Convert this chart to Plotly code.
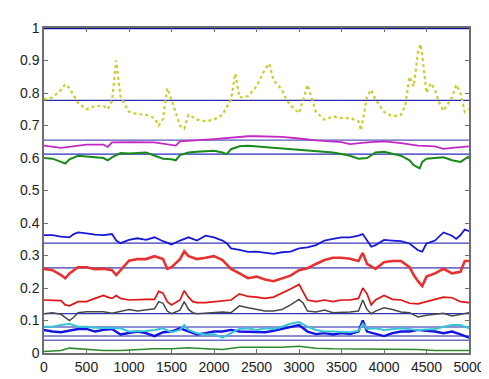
import plotly.graph_objects as go

# ---- data ----
yellow_x = [0,100,200,250,300,400,500,600,700,750,800,850,900,1000,1100,1200,1300,1350,1400,1450,1500,1550,1600,1650,1700,1800,1900,2000,2100,2200,2250,2300,2400,2500,2600,2650,2700,2800,2850,2900,3000,3050,3100,3200,3300,3400,3500,3600,3700,3730,3800,3850,3900,4000,4100,4200,4250,4300,4350,4400,4430,4450,4500,4550,4600,4650,4700,4800,4850,4900,4950,5000]
yellow_y = [0.78,0.786,0.81,0.827,0.815,0.77,0.75,0.76,0.76,0.75,0.776,0.9,0.79,0.742,0.735,0.733,0.723,0.70,0.72,0.815,0.78,0.742,0.70,0.69,0.733,0.718,0.713,0.718,0.733,0.78,0.86,0.786,0.79,0.82,0.873,0.89,0.84,0.81,0.78,0.762,0.738,0.78,0.825,0.742,0.718,0.728,0.723,0.723,0.713,0.685,0.79,0.81,0.78,0.742,0.728,0.733,0.762,0.85,0.82,0.926,0.95,0.916,0.80,0.83,0.81,0.77,0.745,0.786,0.825,0.80,0.742,0.75]

magenta_x = [0,200,500,700,750,800,1000,1300,1550,1600,2000,2200,2400,2500,2800,3000,3200,3500,3600,3800,4000,4200,4400,4600,4700,4800,5000]
magenta_y = [0.638,0.631,0.641,0.641,0.634,0.648,0.649,0.648,0.638,0.651,0.658,0.663,0.667,0.667,0.665,0.66,0.654,0.649,0.643,0.648,0.651,0.646,0.638,0.636,0.628,0.631,0.636]

green_hi_x = [0,100,200,250,300,400,500,600,700,750,800,900,1000,1200,1300,1400,1500,1550,1600,1700,1800,2000,2100,2150,2200,2300,2400,2500,2600,2800,3000,3200,3400,3500,3600,3700,3800,3900,4000,4200,4300,4350,4420,4450,4500,4600,4700,4800,4900,5000]
green_hi_y = [0.60,0.598,0.588,0.583,0.596,0.607,0.605,0.602,0.60,0.593,0.602,0.615,0.614,0.617,0.607,0.598,0.596,0.593,0.609,0.617,0.619,0.622,0.617,0.612,0.627,0.636,0.638,0.636,0.634,0.628,0.624,0.622,0.617,0.612,0.607,0.598,0.60,0.617,0.619,0.607,0.593,0.578,0.568,0.588,0.598,0.60,0.602,0.593,0.588,0.605]

blue_hi_x = [0,100,200,300,350,400,500,600,700,800,850,900,1000,1100,1200,1300,1400,1500,1600,1700,1800,1900,2000,2100,2150,2200,2300,2400,2500,2600,2700,2800,2900,3000,3100,3200,3300,3400,3500,3600,3700,3750,3800,3850,3900,4000,4100,4200,4300,4400,4450,4500,4600,4700,4800,4850,4900,4950,5000]
blue_hi_y = [0.363,0.363,0.358,0.356,0.366,0.371,0.368,0.364,0.363,0.366,0.346,0.338,0.348,0.353,0.348,0.356,0.344,0.334,0.346,0.356,0.346,0.361,0.356,0.346,0.338,0.322,0.317,0.311,0.312,0.308,0.305,0.31,0.312,0.322,0.325,0.332,0.346,0.351,0.356,0.356,0.361,0.366,0.346,0.327,0.332,0.348,0.346,0.344,0.337,0.316,0.312,0.337,0.346,0.371,0.361,0.351,0.363,0.38,0.375]

red_hi_x = [0,100,200,250,300,400,500,600,700,800,850,900,1000,1100,1200,1300,1400,1450,1500,1600,1650,1700,1800,1900,2000,2100,2200,2300,2400,2500,2600,2700,2800,2900,3000,3100,3200,3300,3400,3500,3600,3700,3750,3800,3900,4000,4100,4200,4300,4350,4400,4450,4500,4600,4700,4800,4900,4950,5000]
red_hi_y = [0.259,0.255,0.24,0.23,0.245,0.264,0.264,0.258,0.259,0.255,0.24,0.255,0.284,0.289,0.289,0.298,0.289,0.259,0.264,0.289,0.313,0.298,0.289,0.293,0.298,0.286,0.259,0.245,0.23,0.235,0.226,0.221,0.23,0.238,0.255,0.261,0.274,0.286,0.293,0.293,0.29,0.283,0.308,0.274,0.259,0.279,0.283,0.283,0.264,0.24,0.221,0.206,0.235,0.245,0.259,0.245,0.25,0.283,0.283]

red_lo_x = [0,100,200,250,300,400,500,600,700,750,800,850,900,1000,1100,1200,1300,1350,1400,1450,1500,1600,1650,1700,1750,1800,1900,2000,2100,2200,2300,2400,2500,2600,2700,2800,2900,3000,3050,3100,3200,3300,3400,3500,3600,3700,3750,3800,3850,3900,4000,4100,4200,4300,4400,4500,4600,4700,4800,4900,5000]
red_lo_y = [0.163,0.161,0.161,0.148,0.145,0.158,0.158,0.168,0.177,0.172,0.168,0.177,0.168,0.163,0.165,0.165,0.165,0.19,0.184,0.158,0.148,0.163,0.192,0.172,0.158,0.155,0.155,0.158,0.161,0.163,0.182,0.174,0.172,0.168,0.172,0.184,0.197,0.211,0.187,0.163,0.158,0.163,0.158,0.163,0.163,0.168,0.2,0.182,0.148,0.163,0.177,0.165,0.163,0.153,0.151,0.158,0.163,0.172,0.17,0.158,0.155]

gray_x = [0,100,200,250,300,350,400,500,600,700,800,900,1000,1100,1200,1300,1350,1400,1450,1500,1600,1650,1700,1750,1800,2000,2100,2200,2300,2400,2500,2600,2700,2800,2900,3000,3050,3100,3200,3300,3400,3500,3600,3700,3750,3800,3850,3900,4000,4100,4200,4300,4400,4500,4600,4700,4800,4900,5000]
gray_y = [0.121,0.124,0.119,0.11,0.10,0.11,0.124,0.127,0.126,0.127,0.122,0.129,0.134,0.129,0.132,0.136,0.158,0.153,0.129,0.121,0.132,0.158,0.134,0.124,0.121,0.124,0.126,0.124,0.145,0.139,0.134,0.129,0.129,0.134,0.148,0.165,0.153,0.129,0.126,0.132,0.124,0.124,0.126,0.129,0.163,0.134,0.121,0.129,0.139,0.134,0.126,0.124,0.111,0.116,0.119,0.122,0.114,0.119,0.124]

cyan_x = [0,100,200,300,400,500,600,700,800,900,1000,1100,1200,1300,1400,1500,1600,1650,1700,1800,1900,2000,2100,2200,2300,2400,2500,2600,2700,2800,2900,3000,3100,3200,3300,3400,3500,3600,3700,3750,3800,3900,4000,4200,4400,4600,4700,4800,4900,5000]
cyan_y = [0.081,0.081,0.086,0.09,0.081,0.081,0.078,0.078,0.078,0.076,0.066,0.066,0.068,0.071,0.076,0.064,0.071,0.086,0.071,0.061,0.057,0.058,0.047,0.061,0.074,0.076,0.071,0.076,0.074,0.081,0.09,0.095,0.081,0.071,0.066,0.066,0.066,0.064,0.068,0.09,0.074,0.076,0.071,0.076,0.071,0.074,0.081,0.086,0.086,0.076]

blue_lo_x = [0,100,200,300,400,500,600,700,800,900,1000,1100,1200,1300,1400,1500,1600,1700,1800,1900,2000,2100,2200,2300,2400,2500,2600,2700,2800,2900,3000,3100,3200,3300,3400,3500,3600,3700,3750,3800,3900,4000,4100,4200,4300,4400,4500,4600,4700,4800,4900,5000]
blue_lo_y = [0.071,0.066,0.064,0.068,0.074,0.074,0.066,0.071,0.074,0.057,0.061,0.066,0.061,0.052,0.064,0.066,0.076,0.066,0.057,0.061,0.066,0.066,0.071,0.066,0.066,0.066,0.064,0.068,0.074,0.081,0.086,0.066,0.058,0.061,0.057,0.061,0.058,0.066,0.10,0.066,0.058,0.052,0.061,0.066,0.066,0.071,0.068,0.066,0.061,0.066,0.057,0.047]

green_lo_x = [0,200,300,500,700,900,1100,1300,1500,1700,1900,2100,2300,2400,2600,2800,3000,3200,3400,3600,3800,4000,4200,4400,4600,4800,5000]
green_lo_y = [0.005,0.008,0.015,0.011,0.008,0.008,0.011,0.013,0.013,0.016,0.013,0.011,0.018,0.018,0.016,0.018,0.021,0.015,0.013,0.013,0.011,0.013,0.011,0.011,0.008,0.008,0.008]

ref_levels = [1.0, 0.777, 0.655, 0.612, 0.338, 0.262, 0.121, 0.080, 0.052, 0.039]
ref_colors = ["#10108a", "#2a2ab0", "#5858b8", "#2a2ac0", "#3a3ab8", "#7070c4", "#3434b0", "#6a6ac8", "#6a6ac8", "#7070c8"]
ref_widths = [2.5, 1.3, 1.3, 1.3, 1.3, 1.8, 1.3, 1.3, 1.5, 1.5]
x_ticks = list(range(0, 5001, 500))
y_ticks = [i / 10 for i in range(11)]

fig = go.Figure()

series = [
    (green_lo_x, green_lo_y, "#2a8a2a", 1.5, "solid"),
    (blue_lo_x, blue_lo_y, "#1414e0", 2.4, "solid"),
    (cyan_x, cyan_y, "#38c4d4", 2.0, "solid"),
    (gray_x, gray_y, "#44484c", 1.5, "solid"),
    (red_lo_x, red_lo_y, "#e01414", 1.7, "solid"),
    (red_hi_x, red_hi_y, "#e83030", 2.6, "solid"),
    (blue_hi_x, blue_hi_y, "#1818d8", 1.8, "solid"),
    (green_hi_x, green_hi_y, "#188a18", 2.0, "solid"),
    (magenta_x, magenta_y, "#c428c4", 1.8, "solid"),
    (yellow_x, yellow_y, "#cccc30", 2.2, "dot"),
]

for lv, c, w in zip(ref_levels, ref_colors, ref_widths):
    fig.add_trace(go.Scatter(x=[0, 5000], y=[lv, lv], mode="lines",
                             line=dict(color=c, width=w), hoverinfo="skip"))

for xs, ys, c, w, d in series:
    fig.add_trace(go.Scatter(x=xs, y=ys, mode="lines",
                             line=dict(color=c, width=w, dash=d)))

axis_common = dict(showline=True, linecolor="#6e6e6e", linewidth=1.5, mirror="ticks",
                   ticks="inside", ticklen=4, tickcolor="#6e6e6e", showgrid=False,
                   zeroline=False, ticklabeloverflow="allow",
                   tickfont=dict(family="Liberation Sans, Arial", size=14, color="#222"))

fig.update_layout(
    width=489, height=379,
    margin=dict(l=35, r=14, t=14, b=20),
    paper_bgcolor="white", plot_bgcolor="white",
    showlegend=False,
    xaxis=dict(range=[0, 5000], tickvals=x_ticks, ticktext=[str(v) for v in x_ticks], **axis_common),
    yaxis=dict(range=[0, 1], tickvals=y_ticks, ticktext=["0" if v == 0 else ("1" if v == 1 else f"{v:.1f}") for v in y_ticks], **axis_common),
)

fig.write_html("out.html")
